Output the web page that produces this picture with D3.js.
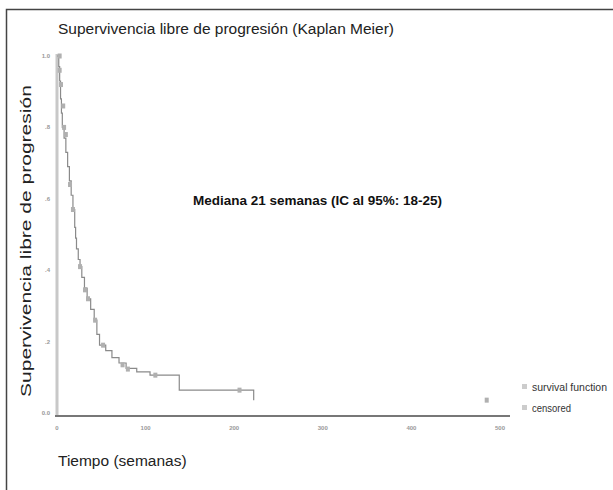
<!DOCTYPE html>
<html>
<head>
<meta charset="utf-8">
<script src="https://cdn.jsdelivr.net/npm/d3@7"></script>
<style>
  body { margin: 0; background: #fff; }
  svg { display: block; font-family: "Liberation Sans", Arial, sans-serif; }
</style>
</head>
<body>
<svg id="chart" width="613" height="490"></svg>
<script>
// Kaplan Meier steps: time (weeks) and survival after the step
const stepTimes = [0, 2, 3, 4, 5, 6, 8, 10, 12, 14, 16, 18, 20, 21, 22, 24, 26, 28, 31, 34, 38, 42, 45, 48, 55, 62, 70, 78, 90, 105, 138, 222];
const stepSurv  = [1.0, 0.97, 0.93, 0.88, 0.84, 0.80, 0.77, 0.73, 0.69, 0.65, 0.61, 0.57, 0.52, 0.49, 0.46, 0.43, 0.41, 0.38, 0.35, 0.32, 0.29, 0.26, 0.22, 0.19, 0.175, 0.155, 0.14, 0.125, 0.115, 0.106, 0.064, 0.036];

// censored observations
const censTimes = [3, 3, 4.5, 7, 8, 10, 14.7, 18, 26, 31.6, 35, 43, 52, 74, 80, 111, 206, 485];
const censSurv  = [1.0, 0.96, 0.92, 0.86, 0.80, 0.78, 0.64, 0.57, 0.41, 0.345, 0.32, 0.26, 0.19, 0.135, 0.123, 0.106, 0.064, 0.036];

const xTicks = [0, 100, 200, 300, 400, 500];
const yTicks = [0, 0.2, 0.4, 0.6, 0.8, 1.0];
const yTickLabels = ["0.0", ".2", ".4", ".6", ".8", "1.0"];

const svg = d3.select("#chart");

const x = d3.scaleLinear().domain([0, 500]).range([57, 500]);
const y = d3.scaleLinear().domain([0, 1]).range([413, 56]);

// outer frame (top and left edges visible)
svg.append("path")
  .attr("d", "M6.5,490 L6.5,9.5 L613,9.5")
  .attr("fill", "none")
  .attr("stroke", "#444")
  .attr("stroke-width", 1.5);

// title
svg.append("text")
  .attr("x", 58).attr("y", 34)
  .attr("font-size", 15.5)
  .attr("fill", "#222")
  .text("Supervivencia libre de progresión (Kaplan Meier)");

// y axis (light, thick)
svg.append("line")
  .attr("x1", x(0)).attr("x2", x(0))
  .attr("y1", y(1) - 2).attr("y2", 416)
  .attr("stroke", "#c8c8c8")
  .attr("stroke-width", 3);

// x axis
svg.append("line")
  .attr("x1", x(0) - 2).attr("x2", 510)
  .attr("y1", 416).attr("y2", 416)
  .attr("stroke", "#777")
  .attr("stroke-width", 2);

// faint tick labels
svg.append("g").selectAll("text")
  .data(yTicks)
  .join("text")
  .attr("x", 50)
  .attr("y", d => y(d) + 2)
  .attr("text-anchor", "end")
  .attr("font-size", 6)
  .attr("font-weight", "bold")
  .attr("fill", "#999")
  .text((d, i) => yTickLabels[i]);

svg.append("g").selectAll("text")
  .data(xTicks)
  .join("text")
  .attr("x", d => x(d))
  .attr("y", 430)
  .attr("text-anchor", "middle")
  .attr("font-size", 6)
  .attr("font-weight", "bold")
  .attr("fill", "#999")
  .text(d => d);

// step curve
const stepData = stepTimes.map((t, i) => [t, stepSurv[i]]);
const line = d3.line()
  .x(d => x(d[0]))
  .y(d => y(d[1]))
  .curve(d3.curveStepAfter);

svg.append("path")
  .datum(stepData)
  .attr("fill", "none")
  .attr("stroke", "#8a8a8a")
  .attr("stroke-width", 1.2)
  .attr("d", line);

// censored marks
svg.append("g").selectAll("rect")
  .data(censTimes.map((t, i) => [t, censSurv[i]]))
  .join("rect")
  .attr("x", d => x(d[0]) - 2)
  .attr("y", d => y(d[1]) - 2.5)
  .attr("width", 4)
  .attr("height", 5)
  .attr("fill", "#b0b0b0");

// median annotation
svg.append("text")
  .attr("x", 193).attr("y", 205)
  .attr("font-size", 13.5)
  .attr("font-weight", "bold")
  .attr("fill", "#111")
  .text("Mediana 21 semanas (IC al 95%: 18-25)");

// y label (stretched along its length like the reference)
svg.append("text")
  .attr("transform", "translate(31,397) rotate(-90) scale(1.45,1)")
  .attr("font-size", 14.5)
  .attr("fill", "#222")
  .text("Supervivencia libre de progresión");

// x label
svg.append("text")
  .attr("x", 58).attr("y", 466)
  .attr("font-size", 15.5)
  .attr("fill", "#222")
  .text("Tiempo (semanas)");

// legend
const legendItems = ["survival function", "censored"];
const legendWidths = [75, 39];
const legend = svg.append("g").selectAll("g")
  .data(legendItems)
  .join("g")
  .attr("transform", (d, i) => "translate(522," + (391 + i * 21) + ")");

legend.append("rect")
  .attr("x", 0).attr("y", -7)
  .attr("width", 5).attr("height", 5)
  .attr("fill", "#ccc");

legend.append("text")
  .attr("x", 10).attr("y", 0)
  .attr("font-size", 11)
  .attr("fill", "#333")
  .attr("textLength", (d, i) => legendWidths[i])
  .attr("lengthAdjust", "spacingAndGlyphs")
  .text(d => d);
</script>
</body>
</html>
